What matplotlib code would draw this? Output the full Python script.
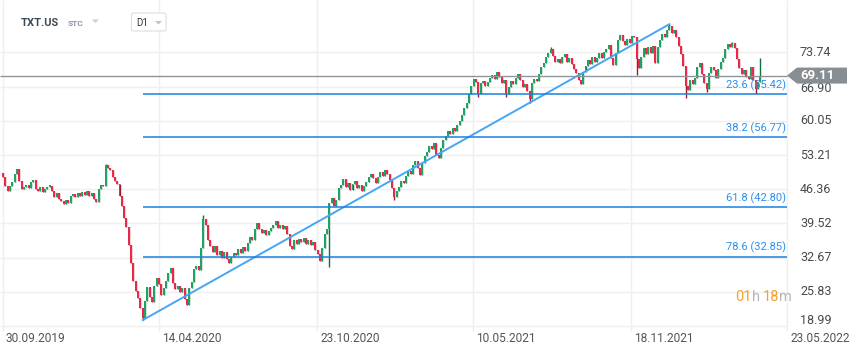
import numpy as np
import matplotlib
matplotlib.use("Agg")
import matplotlib.pyplot as plt
from matplotlib.patches import Polygon, FancyBboxPatch

plt.rcParams['font.family'] = ['Roboto', 'DejaVu Sans']

# --- datos (cada vela ~ 2 sesiones) ---
first_open = 49.6
closes = [
    48.8, 47.0, 46.0, 47.0, 47.8, 49.5, 50.5, 48.0, 46.5, 46.8,
    47.2, 46.6, 47.8, 48.3, 46.5, 46.0, 46.8, 45.8, 46.4, 46.9,
    47.0, 46.0, 44.8, 45.6, 44.5, 44.0, 43.4, 44.2, 43.6, 45.0,
    45.4, 44.8, 45.6, 45.0, 45.8, 45.2, 46.0, 45.0, 45.6, 44.4,
    43.8, 46.4, 47.2, 47.0, 51.2, 50.6, 50.2, 48.8, 48.0, 47.4,
    45.0, 43.0, 40.6, 38.8, 35.2, 31.6, 28.0, 26.0, 24.6, 22.6,
    20.6, 24.0, 26.8, 24.8, 23.8, 27.0, 28.6, 27.4, 25.2, 26.6,
    28.0, 29.6, 30.6, 27.6, 26.4, 27.0, 25.8, 26.6, 24.4, 23.2,
    26.6, 27.8, 30.4, 31.0, 30.2, 34.6, 40.4, 39.2, 36.2, 35.0,
    33.8, 35.0, 33.2, 34.0, 32.6, 33.8, 32.4, 31.6, 32.8, 33.6,
    33.2, 34.4, 33.6, 34.8, 34.0, 35.6, 36.8, 36.2, 38.4, 39.6,
    38.4, 37.6, 38.2, 37.2, 38.0, 38.6, 39.2, 40.0, 38.6, 39.2,
    38.4, 39.0, 37.4, 35.0, 34.4, 36.2, 35.4, 36.4, 35.8, 36.6,
    35.4, 36.2, 35.2, 35.8, 34.2, 33.4, 32.0, 34.6, 37.4, 38.4,
    43.6, 44.6, 43.0, 44.2, 46.6, 47.2, 48.4, 46.8, 47.6, 46.2,
    47.4, 48.0, 46.6, 47.2, 46.0, 47.0, 47.8, 48.8, 49.4, 48.6,
    47.6, 48.8, 49.8, 49.0, 50.2, 49.4, 48.2, 46.6, 44.8, 46.0,
    46.8, 48.0, 47.6, 49.0, 50.0, 49.4, 51.2, 52.0, 50.6, 49.2,
    51.6, 53.0, 53.8, 55.0, 54.4, 55.6, 53.2, 52.6, 54.6, 56.2,
    57.0, 58.0, 57.4, 58.6, 58.0, 59.2, 60.0, 61.2, 62.6, 63.6,
    65.4, 67.0, 68.4, 67.8, 65.4, 67.6, 68.0, 67.0, 67.8, 68.6,
    69.2, 68.4, 69.8, 68.8, 67.6, 68.2, 65.4, 66.8, 68.0, 67.4,
    68.6, 69.4, 68.2, 66.8, 67.4, 66.0, 64.4, 67.6, 68.4, 68.0,
    69.4, 70.8, 71.6, 72.8, 73.6, 74.4, 73.0, 71.8, 72.4, 71.6,
    72.8, 73.4, 71.8, 72.6, 71.4, 70.4, 69.6, 68.2, 67.4, 69.8,
    71.0, 72.2, 71.4, 72.8, 71.8, 72.6, 73.6, 72.6, 73.8, 74.4,
    75.2, 72.6, 71.2, 73.6, 76.2, 77.2, 76.0, 75.2, 76.4, 75.6,
    77.0, 76.8, 72.4, 70.6, 72.8, 74.6, 73.4, 74.8, 73.6, 75.0,
    71.6, 74.8, 76.2, 77.4, 76.8, 78.2, 79.0, 77.6, 78.2, 76.8,
    75.0, 73.4, 71.0, 67.0, 66.2, 68.2, 67.4, 68.6, 70.8, 71.6,
    69.4, 67.6, 66.4, 69.6, 70.8, 70.2, 68.6, 70.4, 71.8, 72.6,
    74.4, 75.4, 74.8, 75.6, 74.6, 72.4, 70.6, 69.4, 70.2, 68.8,
    68.4, 70.8, 68.2, 66.4, 67.8, 69.11,
]
# mechas largas visibles
wick_low = {60: 20.18, 140: 30.8, 168: 44.2, 204: 64.8, 216: 64.8,
            226: 63.6, 272: 69.2, 293: 64.6, 302: 65.8, 323: 65.4}
wick_high = {44: 51.4, 86: 41.2, 235: 74.8, 286: 79.39, 313: 75.8, 325: 72.6}

last_price = 69.11
price_ticks = [18.99, 25.83, 32.67, 39.52, 46.36, 53.21, 60.05, 66.90, 73.74]
date_labels = ["30.09.2019", "14.04.2020", "23.10.2020", "10.05.2021", "18.11.2021", "23.05.2022"]
date_pos = [0, 67, 134.8, 201.7, 269.5, 336.5]
fib_ratios = [23.6, 38.2, 61.8, 78.6]

# --- layout en pixeles ---
W, H = 859, 352
BAR_PX, X0_PX = 2.33, 3
Y_PER_PX = 6.845 / 34.2


def px_x(p):
    return (p - X0_PX) / BAR_PX


def px_y(p):
    return 18.99 + (326 - p) * Y_PER_PX


fig = plt.figure(figsize=(W / 100, H / 100), dpi=100)
ax = fig.add_axes([0, 0, 1, 1])
ax.axis("off")
ax.set_xlim(px_x(0), px_x(W))
ax.set_ylim(px_y(H), px_y(0))

GRID = "#efefef"
ax.hlines(price_ticks, px_x(0), px_x(787), color=GRID, lw=1, zorder=1)
ax.vlines(date_pos, px_y(331), px_y(0), color=GRID, lw=1, zorder=1)

# velas
closes = np.array(closes)
opens = np.concatenate([[first_open], closes[:-1]])
idx = np.arange(len(closes))
lows = np.minimum(opens, closes)
highs = np.maximum(opens, closes)
for i, v in wick_low.items():
    lows[i] = min(lows[i], v)
for i, v in wick_high.items():
    highs[i] = max(highs[i], v)
up = closes >= opens
ax.vlines(idx, lows, highs, colors=np.where(up, "#0d7040", "#9e1a2e"), lw=1, zorder=3)
body_b = np.minimum(opens, closes)
body_h = np.maximum(np.abs(closes - opens), 0.25)
ax.bar(idx, body_h, bottom=body_b, width=0.85,
       color=np.where(up, "#1fa262", "#e9284a"), linewidth=0, zorder=4)

# fibonacci
i_hi, i_lo = highs.argmax(), lows.argmin()
f_hi, f_lo = highs.max(), lows.min()
ax.plot([i_lo, i_hi], [f_lo, f_hi], color="#45a6f5", lw=1.4, zorder=5)
for r in fib_ratios:
    lvl = f_hi - r / 100 * (f_hi - f_lo)
    ax.hlines(lvl, i_lo, px_x(787), color="#1a80e0", lw=1.1, zorder=5)
    ax.text(px_x(786), lvl + 0.7, f"{r:.1f} ({lvl:.2f})", ha="right", va="bottom",
            fontsize=8, color="#2a8ff0", zorder=6)

# precio actual
ax.hlines(last_price, px_x(0), px_x(787), color="#8d949a", lw=1, zorder=5)
tag = Polygon([(px_x(787), last_price), (px_x(797), last_price + 8 * Y_PER_PX),
               (px_x(847), last_price + 8 * Y_PER_PX), (px_x(847), last_price - 8 * Y_PER_PX),
               (px_x(797), last_price - 8 * Y_PER_PX)], closed=True, fc="#868d93", ec="none", zorder=7)
ax.add_patch(tag)
ax.text(px_x(800), last_price, f"{last_price:.2f}", ha="left", va="center",
        fontsize=9.5, color="white", fontweight="bold", zorder=8)

# ejes de texto
for p in price_ticks:
    yy = p + (5.5 * Y_PER_PX if p == price_ticks[0] else 0)
    if abs(p - last_price) < 3:
        yy = p - 0.4
    ax.text(px_x(800), yy, f"{p:.2f}", ha="left", va="center", fontsize=9, color="#4a4a4a", zorder=6)
for d, lab in zip(date_pos, date_labels):
    ax.text(d + 3 / BAR_PX, px_y(338), lab, ha="left", va="center", fontsize=8.6, color="#555555")

# cabecera
def fx(p):
    return p / W


def fy(p):
    return 1 - p / H


fig.text(fx(21), fy(23), "TXT.US", fontsize=8, fontweight="bold", color="#3d4a55", va="center")
fig.text(fx(68), fy(23), "STC", fontsize=6, fontweight="bold", color="#8b98a5", va="center")
fig.patches.append(Polygon([(fx(92), fy(19.5)), (fx(99), fy(19.5)), (fx(95.5), fy(23))],
                           closed=True, fc="#cfcfcf", ec="none", transform=fig.transFigure))
fig.patches.append(FancyBboxPatch((fx(131.5), fy(31)), fx(34.5), 18 / H,
                                  boxstyle="round,pad=0,rounding_size=0.004",
                                  fc="white", ec="#dddddd", lw=0.8, transform=fig.transFigure, zorder=9))
fig.text(fx(136), fy(22.5), "D1", fontsize=7, color="#333333", va="center", zorder=10)
fig.patches.append(Polygon([(fx(155), fy(21)), (fx(162), fy(21)), (fx(158.5), fy(24.5))],
                           closed=True, fc="#c4c4c4", ec="none", transform=fig.transFigure, zorder=10))

# contador
renderer = fig.canvas.get_renderer()
parts = [("01", "#f5a02a"), ("h ", "#b5b5b5"), ("18", "#f5a02a"), ("m", "#b5b5b5")]
xcur = 735
for s, c in parts:
    t = fig.text(fx(xcur), fy(297), s, fontsize=10.5, color=c, va="center", ha="left")
    bb = t.get_window_extent(renderer=renderer)
    xcur += bb.width

fig.savefig("out.png", dpi=100)
